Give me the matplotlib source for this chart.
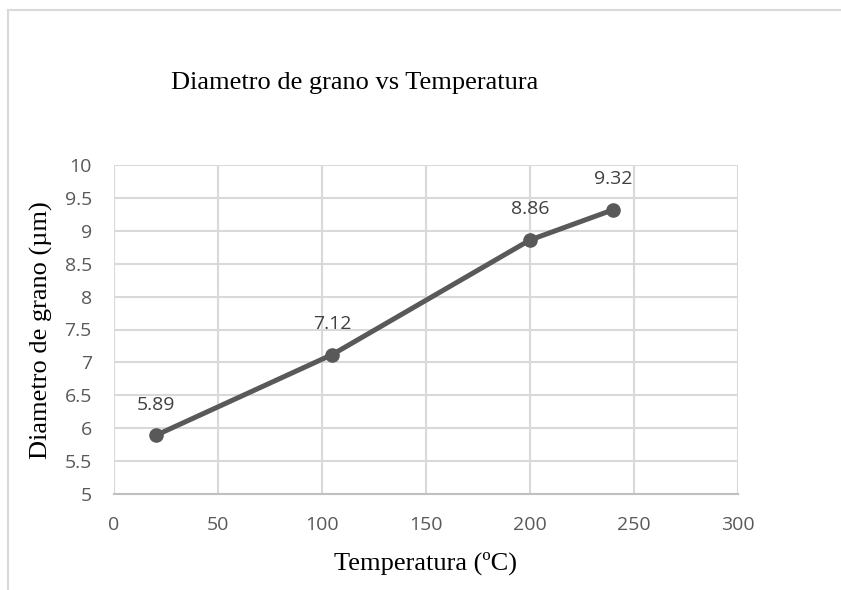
import matplotlib.pyplot as plt
from matplotlib.lines import Line2D

# data
temperatura = [20, 105, 200, 240]
diametro = [5.89, 7.12, 8.86, 9.32]
x_ticks = [0, 50, 100, 150, 200, 250, 300]
y_ticks = [5, 5.5, 6, 6.5, 7, 7.5, 8, 8.5, 9, 9.5, 10]

W, H = 841, 590
fig = plt.figure(figsize=(W / 100, H / 100), dpi=100)

# chart frame (only top and left edges are visible)
fig.add_artist(Line2D([8 / W, 1], [1 - 10 / H, 1 - 10 / H], color='#d9d9d9', lw=1.5))
fig.add_artist(Line2D([8 / W, 8 / W], [0, 1 - 10 / H], color='#d9d9d9', lw=1.5))

ax = fig.add_axes([114 / W, (H - 494) / H, (738 - 114) / W, (494 - 165) / H])

ax.plot(temperatura, diametro, color='#595959', lw=3.6, marker='o', ms=9.5,
        solid_capstyle='round', zorder=3)
for t, d in zip(temperatura, diametro):
    ax.annotate(f'{d:.2f}', (t, d), xytext=(0, 22), textcoords='offset points',
                ha='center', va='center', fontsize=14, color='#404040',
                family='Open Sans')

ax.set_xlim(0, 300)
ax.set_ylim(5, 10)
ax.set_xticks(x_ticks)
ax.set_yticks(y_ticks)
ax.set_xticklabels([str(v) for v in x_ticks])
ax.set_yticklabels([f'{v:g}' for v in y_ticks])
ax.grid(True, color='#d9d9d9', lw=1.5)
ax.set_axisbelow(True)
for s in ['top', 'right', 'left']:
    ax.spines[s].set_visible(False)
ax.spines['bottom'].set_color('#bfbfbf')
ax.spines['bottom'].set_linewidth(1.5)
ax.tick_params(length=0, labelsize=14, labelcolor='#595959')
ax.tick_params(axis='y', pad=16)
ax.tick_params(axis='x', pad=16)
for lbl in ax.get_xticklabels() + ax.get_yticklabels():
    lbl.set_family('Open Sans')

fig.text(355 / W, 1 - 83 / H, 'Diametro de grano vs Temperatura', ha='center', va='center',
         fontsize=19, family='Liberation Serif', color='black')
fig.text(41 / W, 1 - 330 / H, 'Diametro de grano (µm)', ha='center', va='center',
         rotation=90, fontsize=19, family='Liberation Serif', color='black')
fig.text(426 / W, 1 - 563 / H, 'Temperatura (ºC)', ha='center', va='center',
         fontsize=19, family='Liberation Serif', color='black')

fig.savefig('out.png', dpi=100)
